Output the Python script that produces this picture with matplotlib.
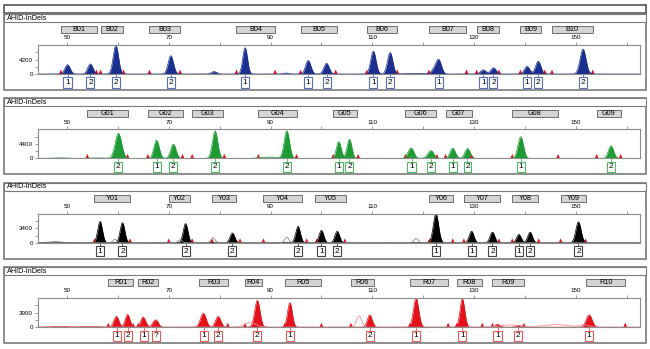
import numpy as np
import matplotlib
matplotlib.use("Agg")
import matplotlib.pyplot as plt
from matplotlib.patches import Rectangle
import matplotlib.transforms as mtransforms

plt.rcParams['font.family'] = ['Liberation Sans', 'DejaVu Sans']

W, H = 650, 349
title = "AHID-InDels"

# ---- blue dye ----
blue_markers = ["B01", "B02", "B03", "B04", "B05", "B06", "B07", "B08", "B09", "B10"]
blue_bins = [(48.8, 55.8), (56.6, 61.1), (66.2, 72.2), (83.3, 90.9), (95.9, 103.0),
             (108.9, 114.9), (121.1, 128.5), (130.5, 134.9), (139.1, 143.1), (145.3, 153.3)]
blue_peak_pos = [50.1, 54.6, 59.6, 70.4, 78.9, 85.0, 93.0, 97.4, 101.0, 110.2, 113.5,
                 118.7, 122.3, 123.1, 131.8, 133.8, 140.4, 142.6, 151.4]
blue_peak_h = [2700, 2900, 8300, 5300, 700, 7600, 300, 3900, 3100, 6600, 6200,
               200, 1500, 3600, 1200, 1800, 2200, 3700, 7200]
blue_peak_w = [0.45, 0.45, 0.45, 0.45, 0.45, 0.4, 0.45, 0.45, 0.45, 0.45, 0.45,
               1.5, 0.5, 0.45, 0.45, 0.45, 0.45, 0.45, 0.5]
blue_tri = [48.8, 55.8, 56.6, 61.1, 66.2, 72.2, 83.3, 90.9, 95.9, 102.8, 108.9, 114.9,
            121.1, 128.5, 130.5, 134.9, 139.1, 143.9, 145.3, 153.3]
blue_call_pos = [50.1, 54.6, 59.6, 70.4, 85.0, 97.4, 101.0, 110.2, 113.5, 123.1,
                 131.8, 133.8, 140.4, 142.6, 151.4]
blue_call = ["1", "2", "2", "2", "1", "1", "2", "1", "2", "1", "1", "2", "1", "2", "2"]

# ---- green dye ----
green_markers = ["G01", "G02", "G03", "G04", "G05", "G06", "G07", "G08", "G09"]
green_bins = [(54.0, 62.0), (65.9, 72.7), (74.6, 80.6), (87.6, 95.1), (102.3, 106.9),
              (116.5, 122.6), (124.4, 129.5), (137.5, 146.4), (154.1, 158.8)]
green_peak_pos = [48.3, 55.8, 60.1, 67.6, 70.9, 79.1, 89.9, 93.2, 103.4, 105.5,
                  117.1, 117.7, 121.0, 121.6, 125.8, 128.7, 138.6, 139.2, 156.9]
green_peak_h = [200, 150, 7600, 5500, 4300, 8300, 400, 8300, 5100, 5800,
                800, 2800, 600, 2000, 3100, 3000, 600, 6300, 3800]
green_peak_w = [1.2, 1.2, 0.55, 0.45, 0.45, 0.45, 1.5, 0.45, 0.4, 0.4,
                0.4, 0.45, 0.5, 0.45, 0.45, 0.45, 0.4, 0.45, 0.45]
green_tri = [54.0, 61.9, 65.9, 72.7, 74.6, 80.9, 87.6, 95.1, 102.3, 107.2, 116.5,
             122.7, 124.4, 129.5, 137.5, 146.5, 154.1, 158.8]
green_call_pos = [60.1, 67.6, 70.9, 79.1, 93.2, 103.4, 105.5, 117.7, 121.6, 125.8,
                  128.7, 139.2, 156.9]
green_call = ["2", "1", "2", "2", "2", "1", "2", "1", "2", "1", "2", "1", "2"]

# ---- yellow dye (drawn black) ----
yellow_markers = ["Y01", "Y02", "Y03", "Y04", "Y05", "Y06", "Y07", "Y08", "Y09"]
yellow_bins = [(55.4, 62.4), (70.0, 74.2), (78.5, 83.3), (88.6, 96.1), (98.7, 104.9),
               (121.2, 125.8), (128.0, 135.1), (137.5, 142.6), (147.0, 151.9)]
yellow_peak_pos = [47.6, 56.5, 60.9, 73.3, 82.5, 95.4, 100.0, 103.1, 122.5, 129.5,
                   133.6, 138.8, 141.0, 150.5]
yellow_peak_h = [200, 5000, 4700, 4500, 2300, 3850, 2900, 2700, 6800, 2700,
                 2500, 1950, 2500, 4900]
yellow_peak_w = [1.5, 0.4, 0.4, 0.4, 0.4, 0.4, 0.4, 0.4, 0.45, 0.4,
                 0.4, 0.4, 0.4, 0.45]
yellow_ghost_pos = [59.4, 72.2, 78.7, 93.2, 118.6]
yellow_ghost_h = [800, 700, 1200, 1300, 1000]
yellow_tri = [55.4, 62.4, 70.0, 74.6, 78.5, 84.0, 88.6, 97.1, 99.1, 104.6, 121.2,
              125.8, 128.0, 134.9, 137.5, 142.7, 147.0, 151.9]
yellow_call_pos = [56.5, 60.9, 73.3, 82.5, 95.4, 100.0, 103.1, 122.5, 129.5, 133.6,
                   138.8, 141.0, 150.5]
yellow_call = ["1", "2", "2", "2", "2", "1", "2", "1", "1", "2", "1", "2", "2"]

# ---- red dye ----
red_markers = ["R01", "R02", "R03", "R04", "R05", "R06", "R07", "R08", "R09", "R10"]
red_bins = [(58.1, 63.0), (64.0, 67.9), (76.0, 81.6), (85.0, 88.3), (92.8, 100.0),
            (105.8, 110.3), (117.4, 124.9), (126.6, 131.6), (133.6, 139.8), (152.0, 159.7)]
red_peak_pos = [48.3, 54.5, 59.4, 59.9, 61.9, 64.7, 65.1, 67.1, 67.7, 76.4, 76.9,
                79.7, 87.4, 93.8, 109.5, 118.6, 127.7, 134.6, 138.7, 152.6]
red_peak_h = [200, 200, 1500, 2000, 3400, 1000, 2000, 1300, 1300, 1000, 3100,
              2900, 7200, 6600, 3300, 7800, 7600, 800, 500, 3300]
red_peak_w = [1.5, 1.5, 0.35, 0.35, 0.4, 0.35, 0.4, 0.35, 0.35, 0.4, 0.45,
              0.45, 0.45, 0.4, 0.4, 0.45, 0.4, 0.4, 0.4, 0.5]
red_ghost_pos = [86.0, 107.4, 137.0, 146.0, 151.6]
red_ghost_h = [1200, 3000, 600, 700, 600]
red_ghost_w = [1.0, 0.45, 1.8, 2.2, 0.8]
red_tri = [58.1, 63.0, 64.0, 67.9, 76.0, 81.6, 85.0, 88.3, 92.8, 100.0, 105.8, 110.3,
           117.4, 124.9, 126.6, 131.6, 133.6, 139.8, 152.0, 159.7]
red_call_pos = [59.8, 61.9, 65.1, 67.4, 76.9, 79.7, 87.4, 93.8, 109.5, 118.6,
                127.7, 134.6, 138.7, 152.6]
red_call = ["1", "2", "1", "?", "1", "2", "2", "1", "2", "1", "1", "1", "2", "1"]

y_label_val = [4200, 4400, 3400, 3900]

panels = [
    dict(markers=blue_markers, bins=blue_bins, pos=blue_peak_pos, h=blue_peak_h,
         w=blue_peak_w, tri=blue_tri, cpos=blue_call_pos, call=blue_call,
         color="#1b2f8e", edge="#5a6db5", ghosts=None),
    dict(markers=green_markers, bins=green_bins, pos=green_peak_pos, h=green_peak_h,
         w=green_peak_w, tri=green_tri, cpos=green_call_pos, call=green_call,
         color="#1e9b35", edge="#4db860", ghosts=None),
    dict(markers=yellow_markers, bins=yellow_bins, pos=yellow_peak_pos, h=yellow_peak_h,
         w=yellow_peak_w, tri=yellow_tri, cpos=yellow_call_pos, call=yellow_call,
         color="black", edge="#444444",
         ghosts=(yellow_ghost_pos, yellow_ghost_h, [0.35] * len(yellow_ghost_pos), "#8a8a8a")),
    dict(markers=red_markers, bins=red_bins, pos=red_peak_pos, h=red_peak_h,
         w=red_peak_w, tri=red_tri, cpos=red_call_pos, call=red_call,
         color="#e3121b", edge="#e85a5a",
         ghosts=(red_ghost_pos, red_ghost_h, red_ghost_w, "#f29090")),
]

fig = plt.figure(figsize=(W / 100, H / 100), dpi=100)

# background axes in pixel coordinates for frames
bg = fig.add_axes([0, 0, 1, 1])
bg.set_xlim(0, W)
bg.set_ylim(H, 0)
bg.axis("off")
bg.add_patch(Rectangle((4, 5), 642, 8, facecolor="white", edgecolor="#555555", lw=1.2))

x_lo, x_hi = 44.3, 162.6
xs = np.linspace(x_lo, x_hi, 4000)


def trace(pos, hts, wid, k=1.0):
    y = np.zeros_like(xs)
    for p, hh, s in zip(pos, hts, wid):
        y += hh * np.exp(-0.5 * ((xs - p) / (s * k)) ** 2)
    return y


for i, pnl in enumerate(panels):
    T = 14 + 84.4 * i
    # outer panel frame + header strip
    bg.add_patch(Rectangle((4, T), 642, 76, facecolor="white", edgecolor="#7a7a7a", lw=1.2))
    bg.add_patch(Rectangle((4, T), 642, 8, facecolor="white", edgecolor="#7a7a7a", lw=0.8))
    bg.text(7, T + 4.2, title, fontsize=5.2, va="center", ha="left")

    ptop, pbot = T + 31, T + 60
    ph = pbot - ptop
    ax = fig.add_axes([38 / W, 1 - pbot / H, (640 - 38) / W, ph / H])
    ymax = 2 * y_label_val[i]
    ax.set_xlim(x_lo, x_hi)
    ax.set_ylim(0, ymax)

    y = trace(pnl["pos"], pnl["h"], pnl["w"], 1.15)
    ax.fill_between(xs, 0, y, color=pnl["color"], lw=0)
    ax.plot(xs, y, color=pnl["color"], lw=0.5)
    if pnl["ghosts"] is not None:
        gp, gh, gw, gc = pnl["ghosts"]
        ax.plot(xs, trace(gp, gh, gw, 1.15), color=gc, lw=0.6)

    # red bin triangles
    th = ymax * 4.5 / ph
    for t in pnl["tri"]:
        ax.fill([t - 0.38, t, t + 0.38], [0, th, 0], color="#e8101a", lw=0)

    # axes style
    for sp in ax.spines.values():
        sp.set_color("#8c8c8c")
        sp.set_linewidth(0.8)
    ax.xaxis.tick_top()
    ax.set_xticks(range(50, 161, 10))
    ax.set_xticklabels([str(v) if v % 20 == 10 else "" for v in range(50, 161, 10)])
    ax.tick_params(axis="x", direction="out", length=2, width=0.6, color="#8c8c8c",
                   labelsize=4.5, pad=1.5)
    ax.set_yticks([0, y_label_val[i]])
    ax.set_yticklabels(["0", str(y_label_val[i])])
    ax.set_yticks([y_label_val[i] / 2, y_label_val[i] * 1.5], minor=True)
    ax.tick_params(axis="y", which="both", direction="out", length=2, width=0.6,
                   color="#8c8c8c", labelsize=4.5, pad=1.5)

    trans = mtransforms.blended_transform_factory(ax.transData, ax.transAxes)
    # marker bin boxes above the plot
    b0, b1 = 1 + 12 / ph, 1 + 19 / ph
    for name, (s, e) in zip(pnl["markers"], pnl["bins"]):
        ax.add_patch(Rectangle((s, b0), e - s, b1 - b0, transform=trans, clip_on=False,
                               facecolor="#d4d4d4", edgecolor="#6e6e6e", lw=0.7))
        ax.text((s + e) / 2, (b0 + b1) / 2, name, transform=trans, ha="center",
                va="center", fontsize=5.2)

    # allele call boxes below the plot
    cy = -8.5 / ph
    for cp, lab in zip(pnl["cpos"], pnl["call"]):
        ax.plot([cp, cp], [0, -3 / ph], transform=trans, clip_on=False,
                color=pnl["edge"], lw=0.6)
        ax.text(cp, cy, lab, transform=trans, ha="center", va="center", fontsize=6,
                bbox=dict(boxstyle="square,pad=0.2", facecolor="white",
                          edgecolor=pnl["edge"], lw=0.8))

fig.savefig("out.png", dpi=100)
